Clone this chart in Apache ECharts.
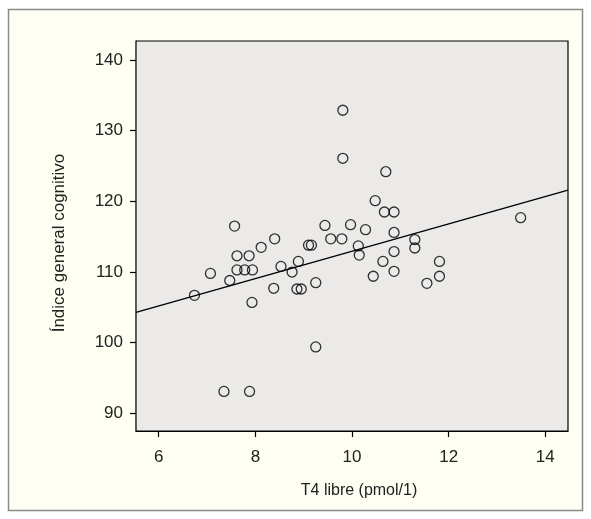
<!DOCTYPE html>
<html><head><meta charset="utf-8">
<script src="https://cdn.jsdelivr.net/npm/echarts@6/dist/echarts.min.js"></script>
<style>html,body{margin:0;padding:0;background:#fff}#c{width:591px;height:519px}</style>
</head><body><div id="c"></div>
<script>
const t4Values = [6.74,7.07,7.35,7.47,7.57,7.62,7.62,7.78,7.87,7.94,7.88,7.93,8.12,8.40,8.38,8.53,8.76,8.89,8.86,8.95,9.10,9.16,9.25,9.25,9.44,9.56,9.81,9.81,9.79,9.97,10.13,10.15,10.28,10.44,10.48,10.67,10.64,10.70,10.87,10.87,10.87,10.87,11.30,11.30,11.55,11.81,11.81,13.49];
const cogValues = [106.7,109.8,93.1,108.8,116.5,112.3,110.3,110.3,112.3,110.3,93.1,105.7,113.5,114.7,107.7,110.8,110.0,111.5,107.6,107.6,113.8,113.8,108.5,99.4,116.6,114.7,132.9,126.1,114.7,116.7,113.7,112.4,116.0,109.4,120.1,118.5,111.5,124.2,118.5,115.6,112.9,110.1,114.6,113.4,108.4,111.5,109.4,117.7];
const fitX = [5.53, 14.47];
const fitY = [104.3, 121.6];
const xTicks = [6,8,10,12,14];
const yTicks = [90,100,110,120,130,140];
const xTitle = 'T4 libre (pmol/1)';
const yTitle = 'Índice general cognitivo';

const chart = echarts.init(document.getElementById('c'), null, {renderer:'canvas'});
const font = 'Liberation Sans';
chart.setOption({
  animation:false,
  backgroundColor:'#ffffff',
  graphic:[{type:'rect', z:-10, shape:{x:8.5,y:9.5,width:574,height:501}, style:{fill:'#FEFEF3', stroke:'#8a8a8a', lineWidth:1.5}}],
  grid:{left:136, right:23, top:41, bottom:88, show:true, backgroundColor:'#EBEAE8', borderColor:'#000', borderWidth:1.2, z:1},
  xAxis:{type:'value', min:5.53, max:14.47, name:xTitle, nameLocation:'middle', nameGap:52,
    nameTextStyle:{fontFamily:font, fontSize:16, color:'#222', padding:[0,0,0,14]},
    axisLine:{onZero:false, lineStyle:{color:'#000', width:1.2}},
    axisTick:{show:true, length:6, customValues:xTicks, lineStyle:{color:'#000', width:1.2}},
    axisLabel:{customValues:xTicks, fontFamily:font, fontSize:17, color:'#222', margin:18},
    splitLine:{show:false}},
  yAxis:{type:'value', min:87.5, max:142.7, name:yTitle, nameLocation:'middle', nameGap:68,
    nameTextStyle:{fontFamily:font, fontSize:17, color:'#222', padding:[0,14,0,0]},
    axisLine:{onZero:false, lineStyle:{color:'#000', width:1.2}},
    axisTick:{show:true, length:6, customValues:yTicks, lineStyle:{color:'#000', width:1.2}},
    axisLabel:{customValues:yTicks, fontFamily:font, fontSize:17, color:'#222', margin:13},
    splitLine:{show:false}},
  series:[
    {type:'line', data:fitX.map((x,i)=>[x,fitY[i]]), symbol:'none', lineStyle:{color:'#000', width:1.4}, z:3},
    {type:'scatter', data:t4Values.map((x,i)=>[x,cogValues[i]]), symbol:'circle', symbolSize:10,
      itemStyle:{color:'rgba(0,0,0,0)', borderColor:'#000', borderWidth:1.3}, z:4}
  ]
});
</script></body></html>
